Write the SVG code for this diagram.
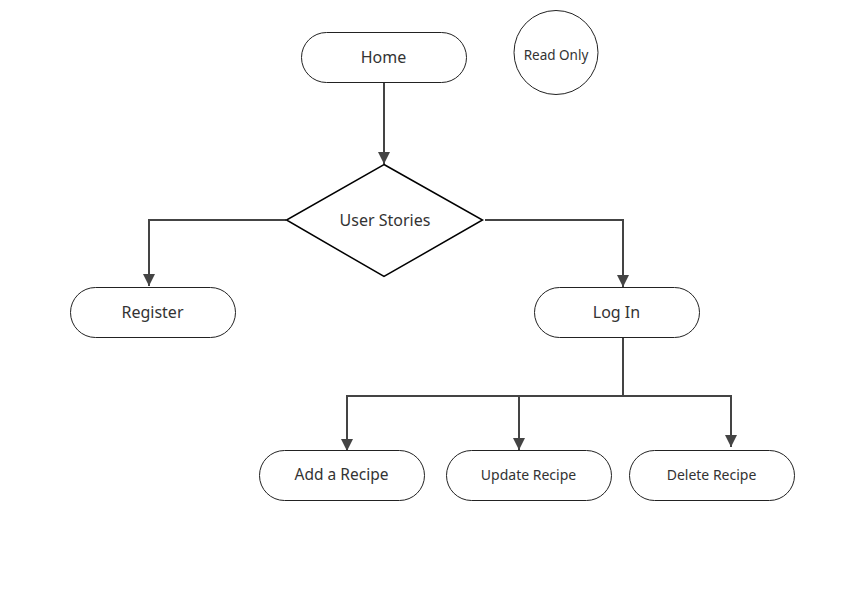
<svg xmlns="http://www.w3.org/2000/svg" width="845" height="611" viewBox="0 0 845 611">
<style>
.n{fill:#fff;stroke:#222;stroke-width:1}
.d{fill:#fff;stroke:#000;stroke-width:1.5}
.t{font-family:"Noto Sans","Open Sans",sans-serif;fill:#333;text-anchor:middle;dominant-baseline:central}
.c{fill:none;stroke:#444;stroke-width:2}
</style>
<defs>
<marker id="ah" viewBox="0 0 12 12" refX="12" refY="6" markerWidth="14" markerHeight="12" markerUnits="userSpaceOnUse" orient="auto">
<path d="M0,0 L12,6 L0,12 Z" fill="#444"/>
</marker>
</defs>
<rect width="845" height="611" fill="#fff"/>
<g id="connectors">
<path class="c" d="M384,82 V164" marker-end="url(#ah)"/>
<path class="c" d="M286,220 H149 V286" marker-end="url(#ah)"/>
<path class="c" d="M485,220 H623 V287" marker-end="url(#ah)"/>
<path class="c" d="M623,337 V396 H347 V451" marker-end="url(#ah)"/>
<path class="c" d="M519,396 V450" marker-end="url(#ah)"/>
<path class="c" d="M623,396 H731 V447" marker-end="url(#ah)"/>
</g>
<g id="home">
<rect class="n" x="301.5" y="32.5" width="165" height="50" rx="25"/>
<text class="t" x="383.5" y="57" font-size="16">Home</text>
</g>
<g id="readonly">
<circle class="n" cx="556" cy="52.5" r="42"/>
<text class="t" x="556" y="55" font-size="13.5">Read Only</text>
</g>
<g id="userstories">
<polygon class="d" points="384,164.5 482.5,220 384,276.5 286.5,220"/>
<text class="t" x="385" y="220" font-size="16">User Stories</text>
</g>
<g id="register">
<rect class="n" x="70.5" y="287.5" width="165" height="50" rx="25"/>
<text class="t" x="152.5" y="312" font-size="16">Register</text>
</g>
<g id="login">
<rect class="n" x="534.5" y="287.5" width="165" height="50" rx="25"/>
<text class="t" x="616.5" y="312" font-size="16">Log In</text>
</g>
<g id="add">
<rect class="n" x="259.5" y="450.5" width="165" height="50" rx="25"/>
<text class="t" x="341.5" y="474" font-size="15.5">Add a Recipe</text>
</g>
<g id="update">
<rect class="n" x="446.5" y="450.5" width="165" height="50" rx="25"/>
<text class="t" x="528.5" y="474" font-size="14">Update Recipe</text>
</g>
<g id="delete">
<rect class="n" x="629.5" y="450.5" width="165" height="50" rx="25"/>
<text class="t" x="711.5" y="474" font-size="14">Delete Recipe</text>
</g>
</svg>
